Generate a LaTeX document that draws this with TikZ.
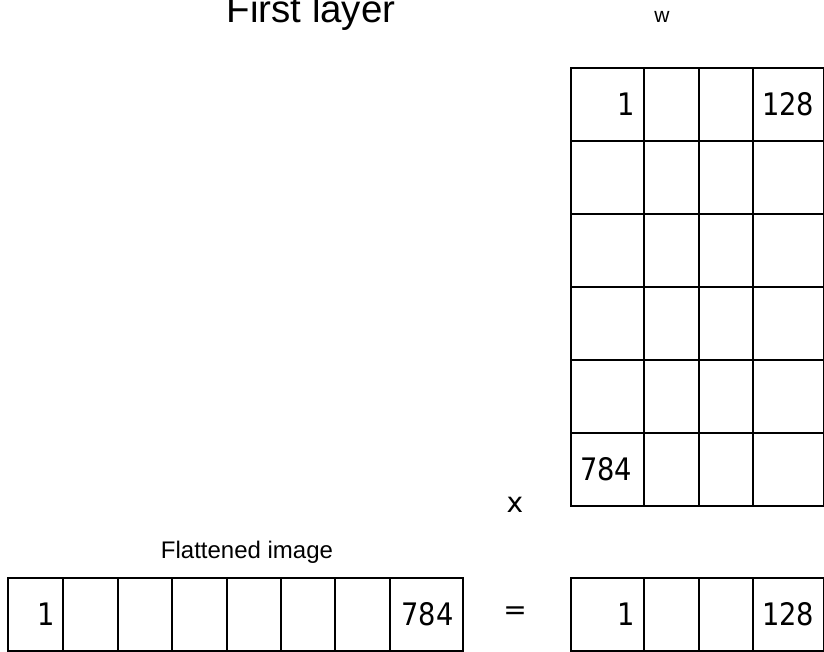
\documentclass[tikz,border=0pt]{standalone}
\usepackage{fontspec}
\setmainfont{Liberation Sans}
\newfontfamily\dvs[FakeStretch=0.88]{DejaVu Sans}
\newfontfamily\dvsop{DejaVu Sans}
\begin{document}
\begin{tikzpicture}[x=1pt,y=-1pt,
  cell/.style={draw, line width=1.8pt, minimum height=73pt, inner xsep=10pt, inner ysep=0pt,
    anchor=north west},
  wide/.style={minimum width=73pt},
  narrow/.style={minimum width=55pt},
  lbl/.style={anchor=base, inner sep=0pt},
  num/.style={font=\dvs\fontsize{31}{31}\selectfont, inner sep=0pt},
  op/.style={inner sep=0pt, font=\dvsop\fontsize{28}{28}\selectfont}]
\useasboundingbox (0,0) rectangle (824,652);
% titles
\node[lbl, font=\fontsize{38.5}{38.5}\selectfont] (title) at (311,23) {First layer};
\node[lbl, font=\fontsize{21}{21}\selectfont] (wlab) at (662,23) {w};
\node[lbl, font=\fontsize{24}{24}\selectfont] (flab) at (247,558) {Flattened image};
% weight matrix
\foreach \r [count=\i from 0] in {1,...,6}{
  \pgfmathsetmacro{\yy}{67+73*\i}
  \node[cell, wide]   (w\r a) at (570,\yy) {};
  \node[cell, narrow] (w\r b) at (643,\yy) {};
  \node[cell, minimum width=54pt] (w\r c) at (698,\yy) {};
  \node[cell, minimum width=71pt] (w\r d) at (752,\yy) {};
}
\node[num, anchor=east] (w1t) at ([xshift=-10pt]w1a.east) {1};
\node[num, anchor=west] (w1u) at ([xshift=10pt]w1d.west) {128};
\node[num, anchor=west] (w6t) at ([xshift=10pt]w6a.west) {784};
% flattened image
\node[cell, narrow] (f1) at (7,577) {};
\node[cell, narrow] (f2) at (62,577) {};
\node[cell, minimum width=54pt] (f3) at (117,577) {};
\node[cell, narrow] (f4) at (171,577) {};
\node[cell, minimum width=54pt] (f5) at (226,577) {};
\node[cell, minimum width=54pt] (f6) at (280,577) {};
\node[cell, narrow] (f7) at (334,577) {};
\node[cell, wide] (f8) at (389,577) {};
\node[num, anchor=east] (f1t) at ([xshift=-9pt]f1.east) {1};
\node[num, anchor=east] (f8t) at ([xshift=-10pt]f8.east) {784};
% output
\node[cell, wide]   (o1) at (570,577) {};
\node[cell, narrow] (o2) at (643,577) {};
\node[cell, minimum width=54pt] (o3) at (698,577) {};
\node[cell, minimum width=71pt] (o4) at (752,577) {};
\node[num, anchor=east] (o1t) at ([xshift=-10pt]o1.east) {1};
\node[num, anchor=west] (o4t) at ([xshift=10pt]o4.west) {128};
% operators
\node[op] (times) at (515,505) {x};
\node[op] (eq) at (515,613) {=};
\end{tikzpicture}
\end{document}
